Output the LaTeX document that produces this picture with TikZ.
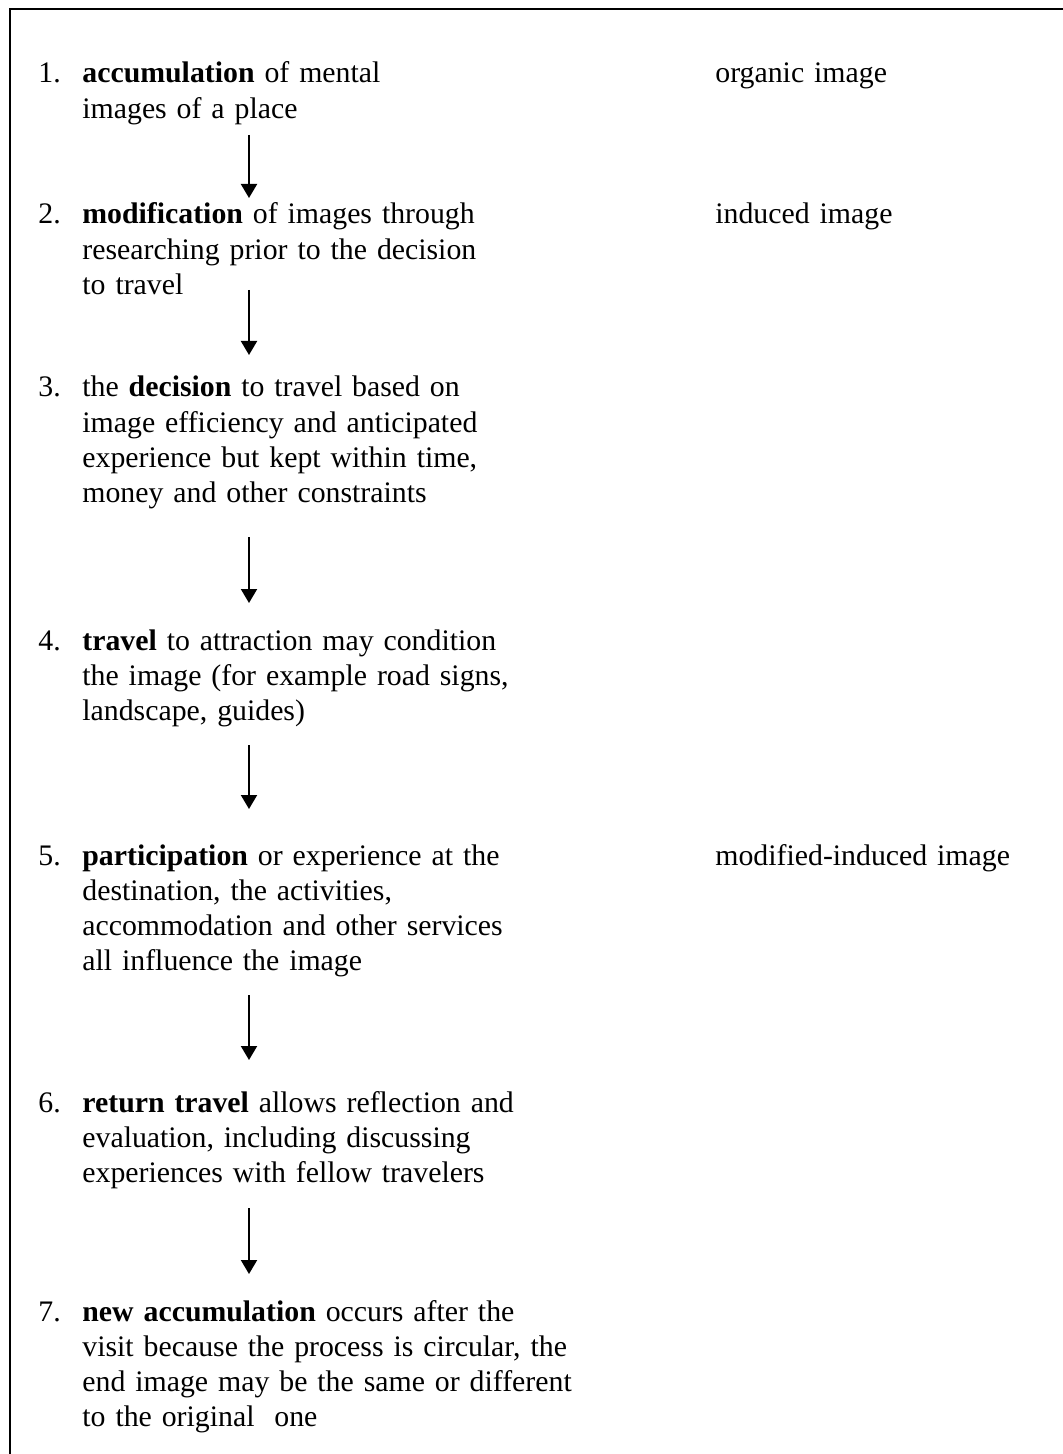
\documentclass[tikz,border=0pt]{standalone}
\usepackage{fontspec}
\setmainfont{Liberation Serif}
\usetikzlibrary{arrows.meta,positioning}

\tikzset{
  txt/.style={anchor=base west, inner sep=0pt, align=left, text width=270pt,
              font=\fontsize{14.9}{17.65}\selectfont},
  flow/.style={-{Triangle[width=8pt,length=7pt]}, line width=1pt},
}

\begin{document}
\begin{tikzpicture}[x=0.5pt,y=-0.5pt]
  \useasboundingbox (0,0) rectangle (1063,1454);
  \begin{scope}
    \clip (0,0) rectangle (1063,1454);
    \draw[line width=1.3pt] (10,9) rectangle (1090,1480);
  \end{scope}

  % numbers
  \node[txt] (n1) at (38,83)   {1.};
  \node[txt] (n2) at (38,224)  {2.};
  \node[txt] (n3) at (38,397)  {3.};
  \node[txt] (n4) at (38,650)  {4.};
  \node[txt] (n5) at (38,865)  {5.};
  \node[txt] (n6) at (38,1112) {6.};
  \node[txt] (n7) at (38,1321) {7.};

  % steps
  \node[txt] (t1) at (82,83) {\textbf{accumulation} of mental\\images of a place};
  \node[txt] (t2) at (82,224) {\textbf{modification} of images through\\researching prior to the decision\\to travel};
  \node[txt] (t3) at (82,397) {the \textbf{decision} to travel based on\\image efficiency and anticipated\\experience but kept within time,\\money and other constraints};
  \node[txt] (t4) at (82,650) {\textbf{travel} to attraction may condition\\the image (for example road signs,\\landscape, guides)};
  \node[txt] (t5) at (82,865) {\textbf{participation} or experience at the\\destination, the activities,\\accommodation and other services\\all influence the image};
  \node[txt] (t6) at (82,1112) {\textbf{return travel} allows reflection and\\evaluation, including discussing\\experiences with fellow travelers};
  \node[txt] (t7) at (82,1321) {\textbf{new accumulation} occurs after the\\visit because the process is circular,\ the\\end image may be the same or different\\to the original\ \ one};

  % image types
  \node[txt] (r1) at (715,83)  {organic image};
  \node[txt] (r2) at (715,224) {induced image};
  \node[txt] (r5) at (715,865) {modified-induced image};

  % arrows
  \coordinate (a1) at (249,135);  \coordinate (b1) at (249,198);
  \coordinate (a2) at (249,290);  \coordinate (b2) at (249,355);
  \coordinate (a3) at (249,537);  \coordinate (b3) at (249,603);
  \coordinate (a4) at (249,745);  \coordinate (b4) at (249,809);
  \coordinate (a5) at (249,995);  \coordinate (b5) at (249,1060);
  \coordinate (a6) at (249,1208); \coordinate (b6) at (249,1274);
  \foreach \i in {1,...,6}
    \draw[flow] (a\i) -- (b\i);
\end{tikzpicture}
\end{document}
